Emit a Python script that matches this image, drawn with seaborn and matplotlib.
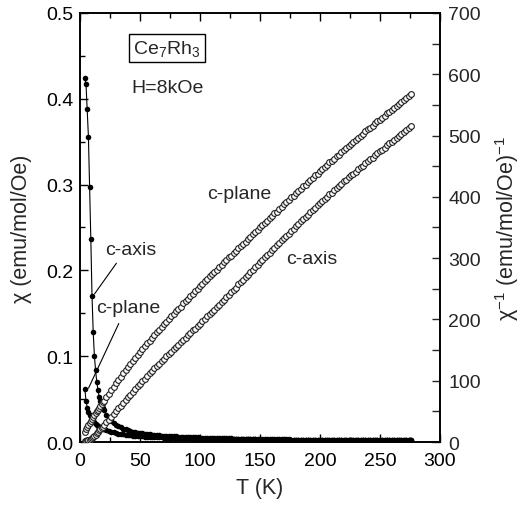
"""Ce7Rh3 susceptibility chi(T) and inverse chi(T) for H || c-axis and H in the c-plane (H = 8 kOe)."""
import matplotlib
matplotlib.use("Agg")
import matplotlib.pyplot as plt
import numpy as np
import pandas as pd
import seaborn as sns
from matplotlib.ticker import MultipleLocator

# temperatures (K), same grid for both field directions
T_K = [4, 5, 6, 7, 8, 9, 10, 11, 12, 13, 14, 15, 16, 17, 18, 19, 20,
       22, 24, 26, 28, 30, 32, 34, 36, 38, 40, 42, 44, 46, 48, 50, 52,
       54, 56, 58, 60, 62, 64, 66, 68, 70, 72, 74, 76, 78, 80, 82, 84,
       86, 88, 90, 92, 94, 96, 98, 100, 102, 104, 106, 108, 110, 112, 114, 116,
       118, 120, 122, 124, 126, 128, 130, 132, 134, 136, 138, 140, 142, 144, 146, 148,
       150, 152, 154, 156, 158, 160, 162, 164, 166, 168, 170, 172, 174, 176, 178, 180,
       182, 184, 186, 188, 190, 192, 194, 196, 198, 200, 202, 204, 206, 208, 210, 212,
       214, 216, 218, 220, 222, 224, 226, 228, 230, 232, 234, 236, 238, 240, 242, 244,
       246, 248, 250, 252, 254, 256, 258, 260, 262, 264, 266, 268, 270, 272, 274, 276]

# inverse susceptibility (mol Oe / emu)
INV_CHI_CAXIS = [2.36, 2.40, 2.58, 2.81, 3.36, 4.22, 5.88, 7.81, 10.0, 12.0, 14.4, 16.4, 19.2, 21.0, 23.0, 25.0, 27.0,
                 32, 36, 41, 45, 50, 55, 59, 64, 68, 73, 77, 82, 86, 91, 95, 99,
                 103, 108, 112, 116, 120, 124, 128, 132, 136, 140, 144, 147, 151, 155, 159, 163,
                 166, 170, 174, 178, 182, 185, 189, 193, 197, 201, 205, 209, 212, 216, 220, 224,
                 228, 232, 236, 240, 244, 248, 252, 257, 261, 265, 269, 273, 277, 281, 285, 289,
                 293, 297, 301, 305, 309, 313, 317, 321, 325, 329, 332, 336, 340, 344, 348, 352,
                 356, 360, 363, 367, 371, 375, 379, 382, 386, 390, 393, 397, 400, 404, 407, 411,
                 414, 418, 421, 425, 428, 432, 435, 438, 441, 445, 448, 451, 455, 458, 461, 464,
                 468, 471, 474, 477, 480, 484, 487, 490, 493, 496, 500, 503, 506, 509, 513, 516]

INV_CHI_CPLANE = [16.1, 20.8, 25.0, 28.5, 31.5, 34.5, 37.4, 40.5, 44.0, 47.0, 50.0, 53.0, 56.0, 59.0, 62.0, 64.5, 67.0,
                  73, 79, 85, 90, 96, 101, 106, 112, 117, 122, 127, 132, 137, 142, 147, 152,
                  156, 161, 165, 170, 174, 179, 183, 188, 192, 196, 200, 205, 209, 213, 217, 221,
                  226, 230, 234, 238, 242, 246, 250, 254, 258, 262, 266, 270, 274, 277, 281, 285,
                  289, 293, 297, 301, 304, 308, 312, 316, 320, 323, 327, 331, 335, 339, 342, 346,
                  350, 354, 358, 361, 365, 369, 373, 376, 380, 384, 388, 391, 395, 399, 402, 406,
                  410, 413, 417, 420, 424, 428, 431, 435, 438, 442, 445, 449, 452, 456, 459, 462,
                  466, 469, 473, 476, 479, 483, 486, 490, 493, 496, 500, 503, 507, 510, 513, 516,
                  520, 523, 526, 529, 532, 536, 539, 542, 545, 548, 552, 555, 558, 561, 565, 568]

X_TICKS = [0, 50, 100, 150, 200, 250, 300]
CHI_TICKS = [0.0, 0.1, 0.2, 0.3, 0.4, 0.5]
INV_TICKS = [0, 100, 200, 300, 400, 500, 600, 700]

df = pd.DataFrame({
    "T": T_K,
    "inv_caxis": INV_CHI_CAXIS,
    "inv_cplane": INV_CHI_CPLANE,
})
# chi is just the reciprocal of the same measurement
df["chi_caxis"] = 1.0 / df["inv_caxis"]
df["chi_cplane"] = 1.0 / df["inv_cplane"]

sns.set_theme(style="ticks")
plt.rcParams["font.family"] = ["Liberation Sans", "DejaVu Sans"]
plt.rcParams["mathtext.default"] = "regular"
plt.rcParams["axes.linewidth"] = 1.2

fig = plt.figure(figsize=(5.23, 5.06), dpi=100)
ax = fig.add_axes([0.153, 0.1245, 0.688, 0.848])
ax2 = ax.twinx()

# chi: filled circles joined by a thin line
for col in ["chi_cplane", "chi_caxis"]:
    sns.lineplot(data=df, x="T", y=col, ax=ax, color="black", lw=0.8,
                 marker="o", markersize=4.0, markeredgewidth=0,
                 estimator=None, sort=False)

# inverse chi: open circles, dense enough to form a chain
for col in ["inv_cplane", "inv_caxis"]:
    sns.scatterplot(data=df, x="T", y=col, ax=ax2, marker="o", s=17,
                    facecolor="white", edgecolor="#1e1e1e", linewidth=0.8,
                    zorder=3)

ax.set_xlim(0, 300)
ax.set_ylim(0, 0.5)
ax2.set_ylim(0, 700)
ax.set_xticks(X_TICKS)
ax.set_yticks(CHI_TICKS)
ax2.set_yticks(INV_TICKS)
ax.xaxis.set_minor_locator(MultipleLocator(25))
ax.yaxis.set_minor_locator(MultipleLocator(0.05))
ax2.yaxis.set_minor_locator(MultipleLocator(50))
ax.set_yticklabels([f"{v:.1f}" for v in CHI_TICKS])

ax.tick_params(which="both", direction="in", top=True, right=False,
               width=1.0, labelsize=14, pad=5, colors="black")
ax.tick_params(axis="x", which="both", pad=7)
ax.tick_params(which="major", length=6)
ax.tick_params(which="minor", length=3.5)
ax2.tick_params(which="both", direction="in", width=1.0, labelsize=14, pad=6)
ax2.tick_params(which="major", length=6)
ax2.tick_params(which="minor", length=6)

ax.set_xlabel("T (K)", fontsize=15.5, labelpad=6)
ax.set_ylabel("χ (emu/mol/Oe)", fontsize=15.5, labelpad=10)
ax2.set_ylabel("χ$^{-1}$ (emu/mol/Oe)$^{-1}$", fontsize=15.5, labelpad=9)

# annotations
ax.text(72.5, 0.459, "Ce$_7$Rh$_3$", fontsize=14, ha="center", va="center",
        bbox=dict(boxstyle="square,pad=0.2", fc="white", ec="black", lw=1.0))
ax.text(73.3, 0.4126, "H=8kOe", fontsize=14, ha="center", va="center")
ax.text(42.5, 0.224, "c-axis", fontsize=14, ha="center", va="center")
ax.text(40, 0.157, "c-plane", fontsize=14, ha="center", va="center")
ax.text(132.5, 0.289, "c-plane", fontsize=14, ha="center", va="center")
ax.text(193.3, 0.214, "c-axis", fontsize=14, ha="center", va="center")
ax.annotate("", xy=(10.8, 0.170), xytext=(31.7, 0.211),
            arrowprops=dict(arrowstyle="-", lw=0.8, color="black"))
ax.annotate("", xy=(6.1, 0.0598), xytext=(33.3, 0.141),
            arrowprops=dict(arrowstyle="-", lw=0.8, color="black"))

for a in (ax, ax2):
    for s in a.spines.values():
        s.set_color("black")
        s.set_linewidth(1.2)

fig.savefig("out.png", dpi=100)
plt.close(fig)
